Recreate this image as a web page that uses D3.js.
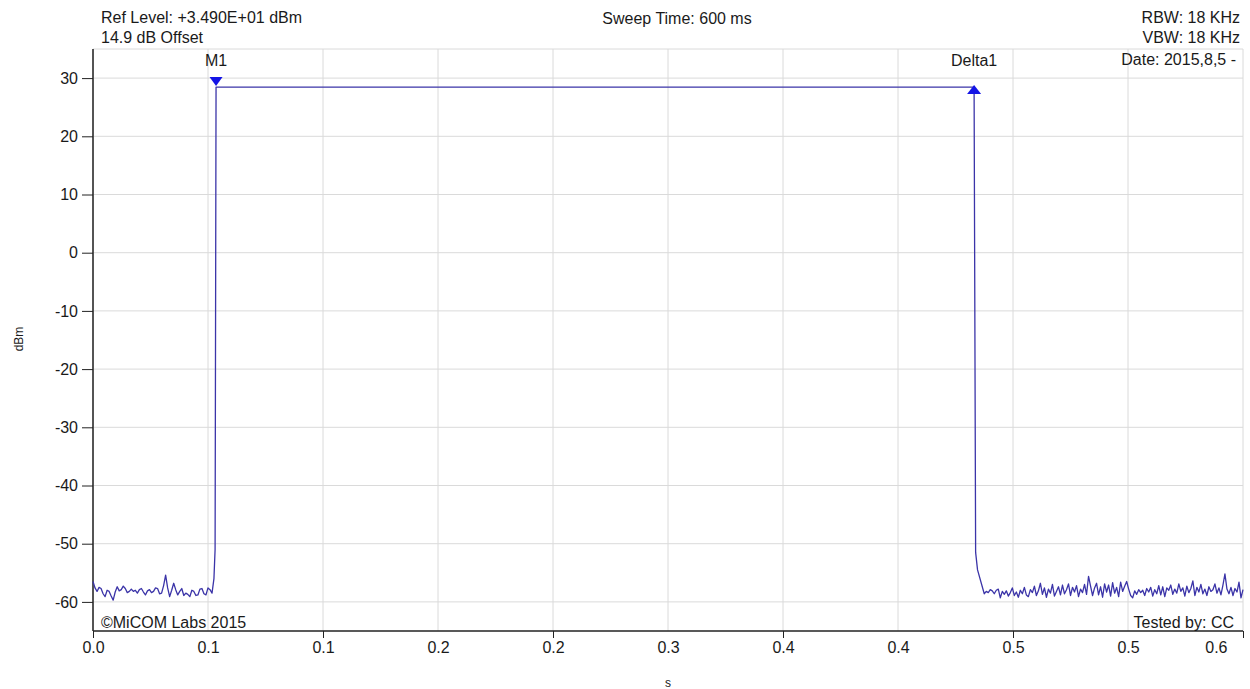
<!DOCTYPE html>
<html>
<head>
<meta charset="utf-8">
<script src="https://cdn.jsdelivr.net/npm/d3@7"></script>
<style>
  html, body { margin: 0; padding: 0; background: #fff; }
  svg { display: block; font-family: "Liberation Sans", Arial, sans-serif; }
</style>
</head>
<body>
<svg id="chart" width="1250" height="689"></svg>
<script>
// ---- data ----
const xDomain = [0, 0.6];             // seconds (sweep 600 ms)
const yDomain = [-65, 35];            // dBm
const xGridValues = [0, 0.06, 0.12, 0.18, 0.24, 0.30, 0.36, 0.42, 0.48, 0.54, 0.60];
const xTickLabels = ["0.0", "0.1", "0.1", "0.2", "0.2", "0.3", "0.4", "0.4", "0.5", "0.5", "0.6"];
const xMajorTicks = [0, 0.12, 0.24, 0.36, 0.48, 0.60];
const yTickValues = [30, 20, 10, 0, -10, -20, -30, -40, -50, -60];

// noise floor before burst (sampled evenly from 0 to noiseBeforeEnd)
const noiseBeforeEnd = 0.0621;
const noiseBefore = [-56.5,-57.6,-58.2,-57.5,-57.7,-58.6,-59.1,-58.0,-58.2,-59.0,
  -59.7,-58.3,-57.4,-58.1,-57.9,-57.3,-57.7,-58.4,-58.2,-57.8,
  -58.2,-58.0,-58.5,-57.9,-57.7,-58.3,-58.8,-58.1,-57.9,-58.4,
  -58.2,-57.6,-57.7,-58.6,-58.5,-57.2,-55.4,-57.6,-59.1,-58.0,
  -56.8,-57.9,-58.8,-58.2,-57.7,-58.9,-58.5,-58.7,-59.1,-58.0,
  -58.2,-58.9,-58.8,-57.8,-57.7,-58.6,-58.8,-57.6,-57.9,-58.5];

// burst edges and on-level
const burstTimes  = [0.0631, 0.0637, 0.0642, 0.2500, 0.4597, 0.4605, 0.4615];
const burstLevels = [-56.0, -51.0, 28.45, 28.45, 28.45, -51.5, -54.5];

// noise floor after burst (sampled evenly from noiseAfterStart to 0.6)
const noiseAfterStart = 0.4650;
const noiseAfter = [-58.6,-58.2,-58.4,-57.9,-58.1,-58.6,-58.0,-57.8,-59.3,-58.2,
  -58.7,-58.1,-59.0,-58.4,-57.6,-58.9,-58.3,-59.2,-58.0,-58.6,
  -57.5,-58.8,-59.1,-57.9,-58.4,-57.3,-58.9,-58.1,-56.8,-58.7,
  -57.6,-59.2,-57.8,-58.5,-57.0,-59.0,-58.2,-57.4,-58.8,-57.1,
  -58.6,-57.9,-56.9,-58.9,-57.5,-58.3,-57.2,-59.1,-57.8,-58.4,
  -57.0,-58.7,-55.6,-57.3,-58.9,-57.6,-56.8,-58.8,-57.4,-59.2,
  -56.9,-58.3,-57.1,-59.0,-56.7,-58.5,-57.5,-59.1,-56.6,-58.2,
  -57.3,-56.5,-57.8,-58.9,-59.3,-58.1,-58.7,-57.9,-58.4,-58.0,
  -58.9,-57.7,-58.3,-57.5,-59.0,-57.9,-58.6,-57.2,-58.8,-57.4,
  -59.1,-57.6,-58.0,-57.1,-58.7,-57.8,-58.5,-56.9,-58.2,-57.6,
  -59.0,-57.3,-58.4,-57.7,-56.4,-58.9,-57.5,-58.3,-57.0,-58.6,
  -57.8,-58.9,-57.4,-58.2,-57.9,-56.9,-58.5,-57.6,-58.8,-57.1,
  -55.2,-57.8,-58.6,-57.5,-58.9,-57.7,-58.3,-56.6,-59.3,-57.9];

// markers
const markerNames  = ["M1", "Delta1"];
const markerTimes  = [0.0642, 0.4597];
const markerLevels = [28.45, 28.45];

// header texts
const headerLeft  = ["Ref Level: +3.490E+01 dBm", "14.9 dB Offset"];
const headerMid   = "Sweep Time: 600 ms";
const headerRight = ["RBW: 18 KHz", "VBW: 18 KHz", "Date: 2015,8,5 -"];
const footerLeft  = "\u00A9MiCOM Labs 2015";
const footerRight = "Tested by: CC";
const xTitle = "s";
const yTitle = "dBm";

// ---- build trace ----
const trace = [];
noiseBefore.forEach((v, i) => trace.push([i * noiseBeforeEnd / (noiseBefore.length - 1), v]));
burstTimes.forEach((t, i) => trace.push([t, burstLevels[i]]));
noiseAfter.forEach((v, i) => trace.push([noiseAfterStart + i * (xDomain[1] - noiseAfterStart) / (noiseAfter.length - 1), v]));

// ---- layout ----
const svg = d3.select("#chart");
const L = 93, R = 1243, T = 49, B = 631;
const x = d3.scaleLinear().domain(xDomain).range([L, R]);
const y = d3.scaleLinear().domain(yDomain).range([B, T]);

const gridColor = "#dadada";
const traceColor = "#3b34a8";
const markerColor = "#1414e6";
const textColor = "#1a1a1a";

// grid
svg.append("g").selectAll("line.vg").data(xGridValues).join("line")
  .attr("x1", d => x(d)).attr("x2", d => x(d)).attr("y1", T).attr("y2", B)
  .attr("stroke", gridColor).attr("stroke-width", 1);
svg.append("g").selectAll("line.hg").data(yTickValues).join("line")
  .attr("x1", L).attr("x2", R).attr("y1", d => y(d)).attr("y2", d => y(d))
  .attr("stroke", gridColor).attr("stroke-width", 1);
svg.append("line").attr("x1", L).attr("x2", R).attr("y1", T).attr("y2", T)
  .attr("stroke", gridColor);

// axes
const yAxis = d3.axisLeft(y).tickValues(yTickValues).tickFormat(d => String(d))
  .tickSize(11).tickPadding(4);
const gy = svg.append("g").attr("transform", `translate(${L},0)`).call(yAxis);
gy.select(".domain").attr("d", `M0,${T}V${B}`).attr("stroke", "#222").attr("stroke-width", 1.5);
gy.selectAll(".tick line").attr("stroke", "#222");
gy.selectAll(".tick text").attr("font-size", 16).attr("fill", textColor)
  .attr("font-family", "Liberation Sans, Arial, sans-serif");

const xAxisLabels = d3.axisBottom(x).tickValues(xGridValues)
  .tickFormat((d, i) => xTickLabels[i]).tickSize(0).tickPadding(11);
const gx = svg.append("g").attr("transform", `translate(0,${B})`).call(xAxisLabels);
gx.select(".domain").remove();
gx.selectAll(".tick text").attr("font-size", 16).attr("fill", textColor)
  .attr("font-family", "Liberation Sans, Arial, sans-serif");
// last label sits inside the plot's right edge, as in the reference
gx.selectAll(".tick text").filter((d, i, n) => i === n.length - 1)
  .attr("text-anchor", "end").attr("dx", -16);
const xAxisMajor = d3.axisBottom(x).tickValues(xMajorTicks).tickSize(7).tickFormat("");
const gxm = svg.append("g").attr("transform", `translate(0,${B})`).call(xAxisMajor);
gxm.select(".domain").attr("d", `M${L},0H${R}`).attr("stroke", "#222").attr("stroke-width", 1.5);
gxm.selectAll(".tick line").attr("stroke", "#222");

// trace
svg.append("path").datum(trace)
  .attr("fill", "none").attr("stroke", traceColor).attr("stroke-width", 1.3)
  .attr("stroke-linejoin", "round")
  .attr("d", d3.line().x(d => x(d[0])).y(d => y(d[1])));

// markers
const mk = svg.append("g");
markerNames.forEach((name, i) => {
  const mx = x(markerTimes[i]), my = y(markerLevels[i]);
  if (i === 0) {
    mk.append("path").attr("d", `M${mx - 6.5},${my - 10}L${mx + 6.5},${my - 10}L${mx},${my - 1}Z`)
      .attr("fill", markerColor);
  } else {
    mk.append("path").attr("d", `M${mx - 7},${my + 7}L${mx + 7},${my + 7}L${mx},${my - 2}Z`)
      .attr("fill", markerColor);
  }
  mk.append("text").attr("x", mx).attr("y", my - 21).attr("text-anchor", "middle")
    .attr("font-size", 16).attr("fill", textColor).text(name);
});

// header / footer texts
const tx = svg.append("g").attr("font-size", 16).attr("fill", textColor);
headerLeft.forEach((t, i) => tx.append("text").attr("x", 101).attr("y", 23 + i * 20).text(t));
tx.append("text").attr("x", 677).attr("y", 24).attr("text-anchor", "middle").text(headerMid);
headerRight.forEach((t, i) => tx.append("text").attr("x", i === 2 ? 1236 : 1240)
  .attr("y", [23, 43, 65][i]).attr("text-anchor", "end").text(t));
tx.append("text").attr("x", 101).attr("y", 628).text(footerLeft);
tx.append("text").attr("x", 1234).attr("y", 628).attr("text-anchor", "end").text(footerRight);

// axis titles
svg.append("text").attr("x", 668).attr("y", 687).attr("text-anchor", "middle")
  .attr("font-size", 12).attr("fill", textColor).text(xTitle);
svg.append("text").attr("transform", "translate(23,339) rotate(-90)").attr("text-anchor", "middle")
  .attr("font-size", 12).attr("fill", textColor).text(yTitle);
</script>
</body>
</html>
